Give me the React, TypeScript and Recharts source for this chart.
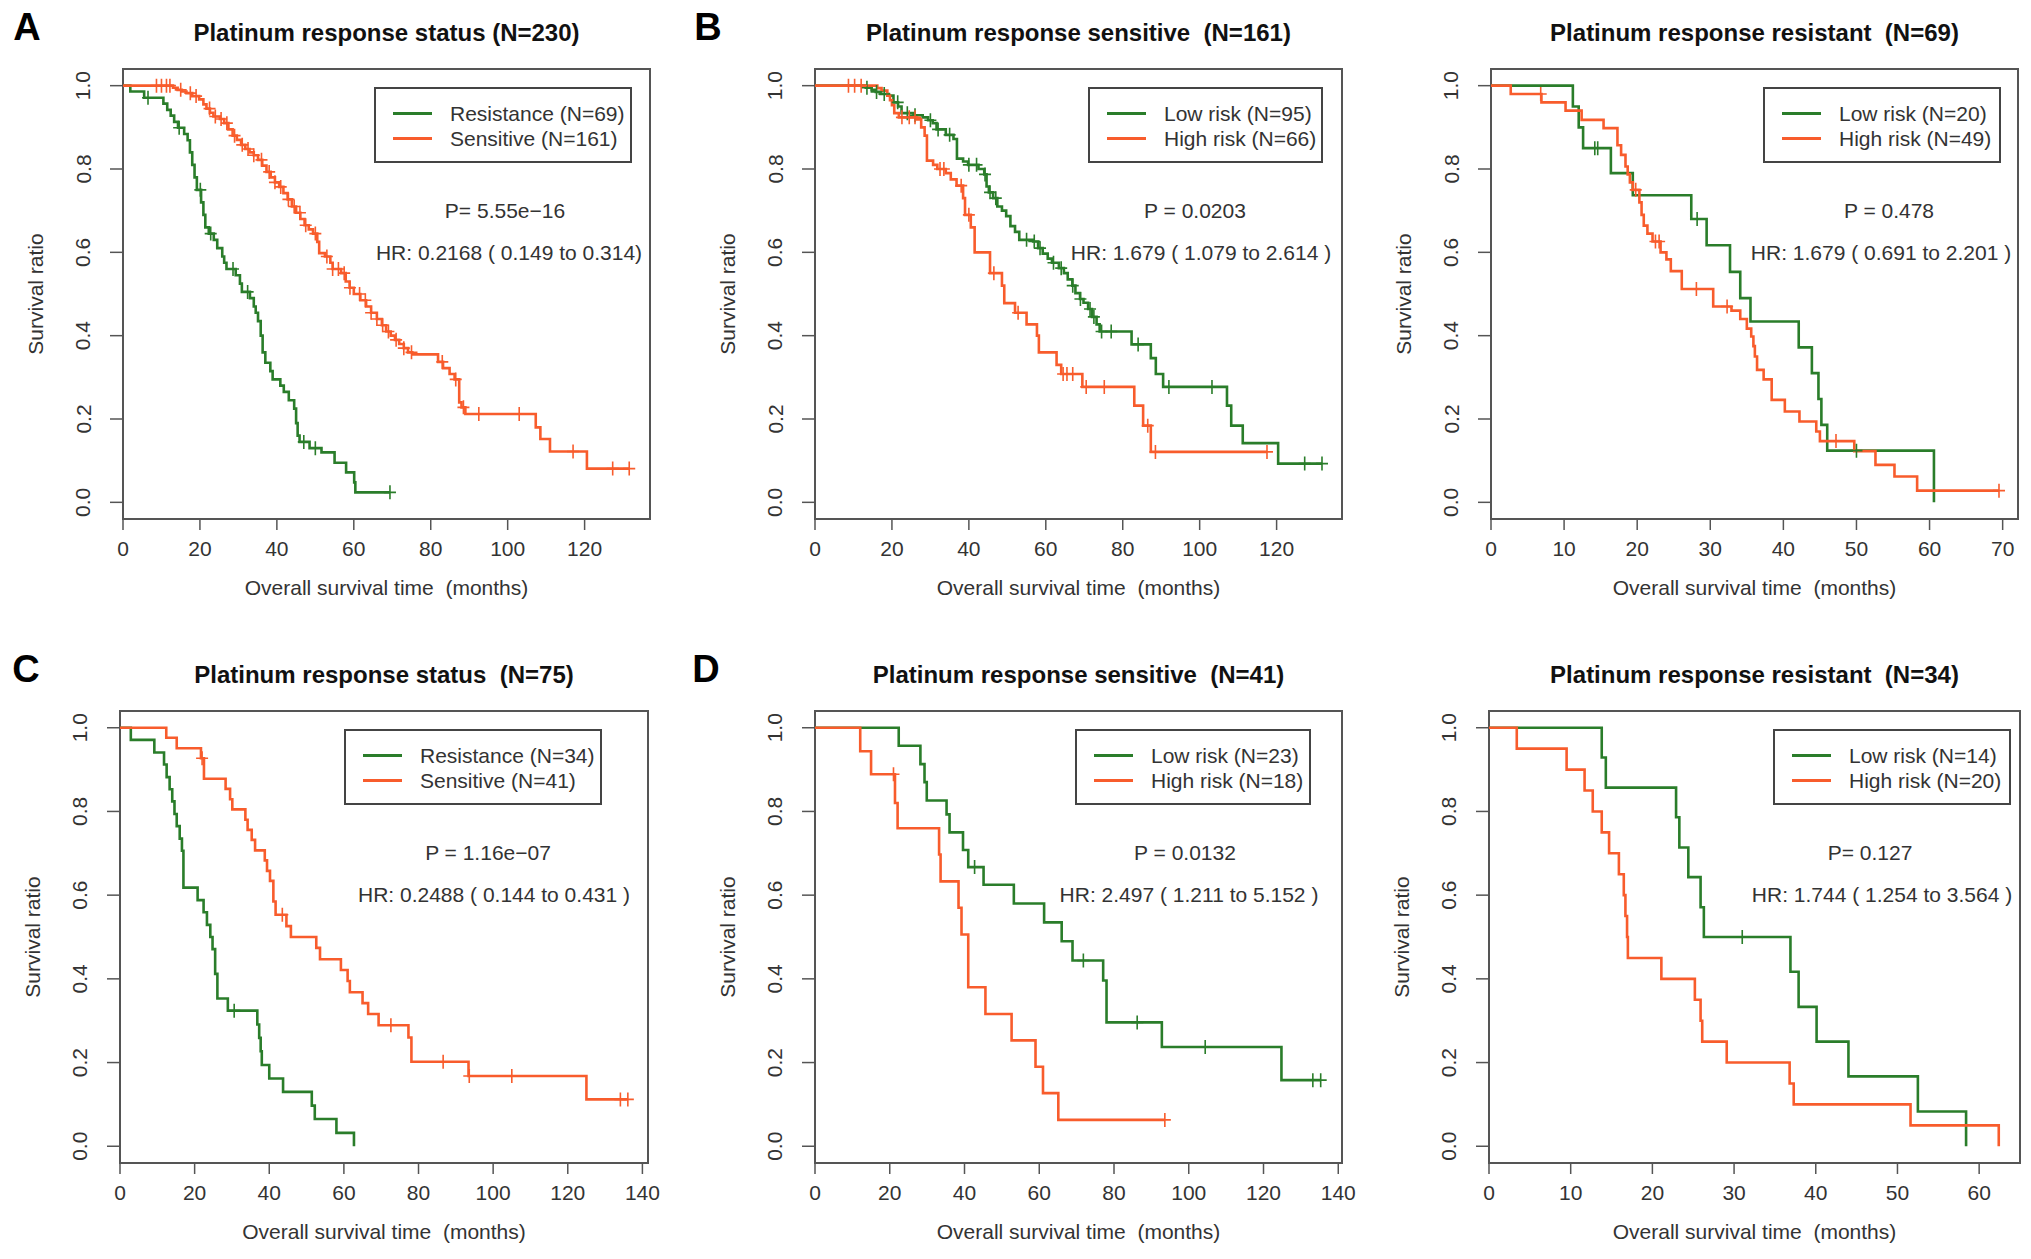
import React from 'react'
import { ComposedChart, Line, Scatter, XAxis, YAxis, ReferenceArea } from 'recharts'

const GREEN = '#2a7d2a'
const ORANGE = '#f85c2c'
const FONT = '"Liberation Sans", Arial, Helvetica, sans-serif'

type Step = [number, number]

// tick labels
const survivalTicks = [0, 0.2, 0.4, 0.6, 0.8, 1.0]
const ticks0to120 = [0, 20, 40, 60, 80, 100, 120]
const ticks0to140 = [0, 20, 40, 60, 80, 100, 120, 140]
const ticks0to70 = [0, 10, 20, 30, 40, 50, 60, 70]
const ticks0to60 = [0, 10, 20, 30, 40, 50, 60]

// A: platinum response status (N=230)
const aResistanceSteps: Step[] = [
  [0, 1], [1.9, 0.986], [5.5, 0.971], [10.5, 0.957], [11.5, 0.942], [12.4, 0.928], [13.3, 0.913],
  [14.3, 0.899], [15.9, 0.884], [16.8, 0.869], [17.4, 0.84], [18.0, 0.81], [18.6, 0.78], [19.2, 0.75],
  [20.3, 0.72], [20.9, 0.69], [21.4, 0.66], [22.3, 0.645], [23.6, 0.63], [24.5, 0.61], [25.8, 0.59],
  [26.3, 0.575], [26.9, 0.56], [29.3, 0.545], [30.4, 0.525], [30.9, 0.505], [33.0, 0.49], [34.0, 0.47],
  [34.5, 0.455], [35.1, 0.435], [35.8, 0.4], [36.3, 0.36], [37.0, 0.335], [38.3, 0.315], [38.9, 0.295],
  [40.9, 0.28], [41.8, 0.265], [43.1, 0.245], [44.5, 0.225], [45.0, 0.19], [45.4, 0.16], [45.9, 0.145],
  [48.5, 0.13], [51.6, 0.12], [55.0, 0.095], [58.0, 0.072], [60.1, 0.048], [60.4, 0.024], [69.4, 0.024],
]
const aResistanceCensor = [6.5, 14.6, 20.1, 22.8, 28.6, 32.4, 47.0, 50.0, 69.4]
const aSensitiveSteps: Step[] = [
  [0, 1], [13.0, 0.995], [14.2, 0.99], [15.3, 0.986], [16.5, 0.982], [18.0, 0.975], [19.8, 0.967],
  [20.9, 0.955], [21.7, 0.945], [22.6, 0.935], [23.5, 0.926], [25.2, 0.92], [26.3, 0.91], [27.4, 0.895],
  [28.5, 0.88], [29.6, 0.87], [30.7, 0.858], [31.8, 0.848], [32.9, 0.84], [34.0, 0.833], [35.1, 0.822],
  [36.2, 0.808], [37.3, 0.793], [38.4, 0.78], [39.5, 0.768], [40.6, 0.757], [41.7, 0.742], [42.8, 0.727],
  [43.9, 0.71], [45.0, 0.695], [46.1, 0.68], [47.2, 0.665], [48.3, 0.655], [49.4, 0.645], [50.5, 0.625],
  [51.0, 0.598], [52.5, 0.59], [53.9, 0.575], [54.5, 0.56], [56.7, 0.55], [57.9, 0.53], [58.9, 0.515],
  [60.0, 0.5], [61.7, 0.485], [63.2, 0.47], [64.5, 0.455], [66.0, 0.44], [67.3, 0.425], [68.4, 0.41],
  [69.6, 0.4], [70.7, 0.39], [71.8, 0.38], [73.0, 0.37], [74.1, 0.36], [75.2, 0.355], [81.9, 0.337],
  [83.2, 0.322], [84.9, 0.308], [86.2, 0.295], [87.4, 0.24], [88.0, 0.228], [89.0, 0.212], [107.3, 0.18],
  [108.5, 0.152], [111.0, 0.122], [120.6, 0.081], [131.6, 0.081],
]
const aSensitiveCensor = [
  8.7, 10.0, 11.3, 12.2, 15.0, 17.5, 19.0, 22.5, 24.0, 25.5, 27.0, 29.0, 31.0, 32.5, 34.0, 36.0, 38.0,
  39.5, 41.0, 43.0, 44.5, 46.0, 47.5, 50.0, 53.0, 54.5, 56.0, 57.5, 59.0, 61.5, 63.0, 64.5, 66.0, 67.5,
  69.0, 71.0, 73.0, 75.0, 83.0, 86.5, 88.5, 92.5, 103.0, 117.0, 127.3, 131.6,
]

// B: platinum response sensitive (N=161)
const bSensLowSteps: Step[] = [
  [0, 1], [13.2, 0.995], [14.7, 0.99], [15.8, 0.985], [17.0, 0.98], [19.2, 0.976], [20.4, 0.96],
  [21.6, 0.95], [22.5, 0.934], [25.6, 0.929], [28.0, 0.924], [29.4, 0.917], [30.6, 0.91], [31.6, 0.895],
  [34.0, 0.882], [36.0, 0.872], [36.9, 0.825], [38.5, 0.818], [39.8, 0.81], [42.5, 0.8], [44.0, 0.787],
  [44.6, 0.758], [45.2, 0.744], [46.3, 0.73], [47.4, 0.71], [48.6, 0.7], [49.7, 0.687], [50.8, 0.663],
  [52.0, 0.649], [53.1, 0.63], [56.7, 0.626], [58.0, 0.61], [59.2, 0.597], [60.5, 0.585], [61.6, 0.575],
  [63.4, 0.562], [64.7, 0.55], [65.7, 0.535], [66.9, 0.52], [67.7, 0.502], [68.9, 0.488], [69.8, 0.479],
  [71.0, 0.464], [72.0, 0.445], [73.2, 0.427], [74.0, 0.41], [82.3, 0.379], [87.3, 0.346], [88.6, 0.308],
  [90.5, 0.277], [107.1, 0.232], [108.2, 0.184], [111.2, 0.142], [120.4, 0.093], [131.8, 0.093],
]
const bSensLowCensor = [
  13.5, 16.0, 18.0, 21.5, 24.0, 26.0, 30.0, 32.0, 35.0, 40.0, 42.0, 44.2, 45.5, 47.0, 55.0, 57.0, 58.5,
  62.0, 64.0, 67.0, 69.0, 71.5, 72.5, 74.5, 77.0, 84.0, 92.0, 103.2, 127.3, 131.8,
]
const bSensHighSteps: Step[] = [
  [0, 1], [16.2, 0.994], [17.3, 0.988], [18.8, 0.976], [19.5, 0.965], [20.0, 0.953], [20.6, 0.934],
  [21.8, 0.924], [26.5, 0.919], [27.6, 0.9], [28.5, 0.88], [29.1, 0.82], [30.7, 0.81], [31.8, 0.8],
  [34.0, 0.79], [35.3, 0.775], [36.8, 0.76], [38.5, 0.73], [39.0, 0.69], [40.5, 0.66], [41.5, 0.6],
  [45.5, 0.55], [48.6, 0.52], [49.2, 0.478], [52.0, 0.455], [55.0, 0.427], [57.7, 0.4], [58.2, 0.36],
  [62.8, 0.33], [64.0, 0.308], [69.5, 0.277], [83.0, 0.232], [85.3, 0.184], [87.3, 0.121], [117.5, 0.121],
]
const bSensHighCensor = [
  8.7, 10.3, 12.0, 22.6, 24.5, 26.0, 32.5, 33.5, 38.0, 40.0, 46.5, 52.8, 64.5, 65.5, 67.0, 70.5, 75.2,
  86.5, 88.5, 117.5,
]

// B: platinum response resistant (N=69)
const bResLowSteps: Step[] = [
  [0, 1], [11.2, 0.95], [12.0, 0.9], [12.6, 0.85], [16.4, 0.79], [19.4, 0.737], [27.4, 0.68],
  [29.5, 0.617], [32.7, 0.553], [34.1, 0.49], [35.5, 0.434], [42.1, 0.372], [43.9, 0.31], [44.8, 0.248],
  [45.2, 0.186], [46.0, 0.124], [60.6, 0],
]
const bResLowCensor = [14.2, 14.6, 28.2, 50.0]
const bResHighSteps: Step[] = [
  [0, 1], [2.7, 0.98], [6.9, 0.96], [10.2, 0.94], [12.4, 0.918], [15.4, 0.898], [17.3, 0.857],
  [17.8, 0.834], [18.4, 0.806], [18.7, 0.787], [19.0, 0.768], [19.4, 0.75], [20.3, 0.72], [20.6, 0.69],
  [20.9, 0.664], [21.4, 0.645], [22.1, 0.626], [23.2, 0.6], [24.0, 0.583], [24.6, 0.555], [26.1, 0.512],
  [30.4, 0.47], [32.9, 0.46], [34.1, 0.44], [35.0, 0.417], [35.6, 0.398], [35.9, 0.375], [36.1, 0.35],
  [36.4, 0.318], [37.3, 0.295], [38.4, 0.246], [40.2, 0.218], [42.2, 0.194], [44.5, 0.17], [45.0, 0.147],
  [49.7, 0.123], [52.6, 0.09], [55.2, 0.062], [58.3, 0.028], [69.5, 0.028],
]
const bResHighCensor = [6.8, 19.8, 22.5, 23.0, 28.1, 32.3, 47.2, 69.5]

// C: platinum response status (N=75)
const cResistanceSteps: Step[] = [
  [0, 1], [2.9, 0.971], [9.2, 0.941], [11.8, 0.912], [12.5, 0.882], [13.3, 0.853], [14.0, 0.824],
  [14.6, 0.794], [15.2, 0.765], [16.0, 0.735], [16.6, 0.706], [17.0, 0.618], [20.8, 0.588], [22.4, 0.559],
  [23.3, 0.529], [24.2, 0.5], [24.8, 0.471], [25.5, 0.412], [26.1, 0.353], [28.9, 0.324], [36.8, 0.291],
  [37.3, 0.259], [37.7, 0.227], [38.0, 0.194], [40.0, 0.162], [43.7, 0.13], [51.4, 0.097], [52.2, 0.065],
  [58.0, 0.032], [62.7, 0],
]
const cResistanceCensor = [30.6]
const cSensitiveSteps: Step[] = [
  [0, 1], [12.4, 0.976], [15.2, 0.951], [21.7, 0.927], [22.5, 0.878], [28.3, 0.854], [29.5, 0.829],
  [30.1, 0.805], [33.6, 0.78], [34.2, 0.756], [35.3, 0.732], [36.2, 0.707], [38.8, 0.683], [39.4, 0.658],
  [40.2, 0.634], [41.1, 0.585], [41.7, 0.553], [44.6, 0.526], [45.8, 0.5], [52.6, 0.474], [53.6, 0.447],
  [59.2, 0.421], [61.0, 0.395], [61.6, 0.368], [65.0, 0.342], [66.5, 0.316], [69.3, 0.289], [77.3, 0.26],
  [78.1, 0.202], [93.4, 0.168], [125.0, 0.112], [136.1, 0.112],
]
const cSensitiveCensor = [22.0, 43.5, 72.6, 86.6, 93.6, 105.0, 134.1, 136.1]

// D: platinum response sensitive (N=41)
const dSensLowSteps: Step[] = [
  [0, 1], [22.4, 0.957], [28.2, 0.913], [29.3, 0.87], [29.9, 0.826], [35.2, 0.793], [36.0, 0.75],
  [39.6, 0.708], [41.0, 0.667], [45.1, 0.625], [53.2, 0.58], [61.3, 0.535], [66.0, 0.49], [68.9, 0.444],
  [77.1, 0.396], [78.0, 0.296], [92.8, 0.237], [124.8, 0.158], [135.3, 0.158],
]
const dSensLowCensor = [42.7, 71.8, 86.2, 104.4, 133.2, 135.3]
const dSensHighSteps: Step[] = [
  [0, 1], [12.1, 0.944], [15.0, 0.889], [21.4, 0.82], [22.1, 0.76], [33.2, 0.697], [33.6, 0.633],
  [38.4, 0.57], [39.2, 0.506], [41.0, 0.38], [45.6, 0.316], [52.6, 0.253], [59.0, 0.19], [61.0, 0.127],
  [65.1, 0.063], [93.6, 0.063],
]
const dSensHighCensor = [21.0, 93.6]

// D: platinum response resistant (N=34)
const dResLowSteps: Step[] = [
  [0, 1], [13.8, 0.929], [14.3, 0.857], [22.9, 0.786], [23.3, 0.714], [24.4, 0.643], [25.9, 0.571],
  [26.3, 0.5], [36.9, 0.417], [37.9, 0.333], [40.1, 0.25], [44.0, 0.167], [52.5, 0.083], [58.4, 0],
]
const dResLowCensor = [31.0]
const dResHighSteps: Step[] = [
  [0, 1], [3.4, 0.95], [9.5, 0.9], [11.7, 0.85], [12.7, 0.8], [13.8, 0.75], [14.7, 0.7], [15.9, 0.65],
  [16.5, 0.6], [16.7, 0.55], [16.9, 0.5], [17.0, 0.45], [21.1, 0.4], [25.2, 0.35], [25.9, 0.3],
  [26.1, 0.25], [29.1, 0.2], [36.8, 0.15], [37.3, 0.1], [51.6, 0.05], [62.4, 0],
]
const dResHighCensor: number[] = []

// survival value at a censor time
const survAt = (steps: Step[], t: number) => {
  let s = 1
  for (const [tt, ss] of steps) if (tt <= t) s = ss
  return s
}

interface Series {
  label: string
  color: string
  steps: Step[]
  censor: number[]
}

interface PanelDef {
  letter?: string
  letterX?: number
  letterY?: number
  title: string
  left: number
  top: number
  boxW: number
  boxH: number
  xMax: number
  xTicks: number[]
  series: Series[]
  legendW: number
  legendGap: number
  pText: string
  hrText: string
  pX: number
  hrX: number
}

const panels: PanelDef[] = [
  {
    letter: 'A', letterX: 27, letterY: 27,
    title: 'Platinum response status (N=230)',
    left: 123, top: 69, boxW: 527, boxH: 450, xMax: 137, xTicks: ticks0to120,
    series: [
      { label: 'Resistance (N=69)', color: GREEN, steps: aResistanceSteps, censor: aResistanceCensor },
      { label: 'Sensitive (N=161)', color: ORANGE, steps: aSensitiveSteps, censor: aSensitiveCensor },
    ],
    legendW: 258, legendGap: 18,
    pText: 'P= 5.55e\u221216', hrText: 'HR: 0.2168 ( 0.149 to 0.314)', pX: 382, hrX: 386,
  },
  {
    letter: 'B', letterX: 708, letterY: 27,
    title: 'Platinum response sensitive  (N=161)',
    left: 815, top: 69, boxW: 527, boxH: 450, xMax: 137, xTicks: ticks0to120,
    series: [
      { label: 'Low risk (N=95)', color: GREEN, steps: bSensLowSteps, censor: bSensLowCensor },
      { label: 'High risk (N=66)', color: ORANGE, steps: bSensHighSteps, censor: bSensHighCensor },
    ],
    legendW: 235, legendGap: 19,
    pText: 'P = 0.0203', hrText: 'HR: 1.679 ( 1.079 to 2.614 )', pX: 380, hrX: 386,
  },
  {
    title: 'Platinum response resistant  (N=69)',
    left: 1491, top: 69, boxW: 527, boxH: 450, xMax: 72.1, xTicks: ticks0to70,
    series: [
      { label: 'Low risk (N=20)', color: GREEN, steps: bResLowSteps, censor: bResLowCensor },
      { label: 'High risk (N=49)', color: ORANGE, steps: bResHighSteps, censor: bResHighCensor },
    ],
    legendW: 238, legendGap: 17,
    pText: 'P = 0.478', hrText: 'HR: 1.679 ( 0.691 to 2.201 )', pX: 398, hrX: 390,
  },
  {
    letter: 'C', letterX: 26, letterY: 669,
    title: 'Platinum response status  (N=75)',
    left: 120, top: 711, boxW: 528, boxH: 452, xMax: 141.5, xTicks: ticks0to140,
    series: [
      { label: 'Resistance (N=34)', color: GREEN, steps: cResistanceSteps, censor: cResistanceCensor },
      { label: 'Sensitive (N=41)', color: ORANGE, steps: cSensitiveSteps, censor: cSensitiveCensor },
    ],
    legendW: 258, legendGap: 46,
    pText: 'P = 1.16e\u221207', hrText: 'HR: 0.2488 ( 0.144 to 0.431 )', pX: 368, hrX: 374,
  },
  {
    letter: 'D', letterX: 706, letterY: 669,
    title: 'Platinum response sensitive  (N=41)',
    left: 815, top: 711, boxW: 527, boxH: 452, xMax: 141, xTicks: ticks0to140,
    series: [
      { label: 'Low risk (N=23)', color: GREEN, steps: dSensLowSteps, censor: dSensLowCensor },
      { label: 'High risk (N=18)', color: ORANGE, steps: dSensHighSteps, censor: dSensHighCensor },
    ],
    legendW: 236, legendGap: 31,
    pText: 'P = 0.0132', hrText: 'HR: 2.497 ( 1.211 to 5.152 )', pX: 370, hrX: 374,
  },
  {
    title: 'Platinum response resistant  (N=34)',
    left: 1489, top: 711, boxW: 531, boxH: 452, xMax: 65, xTicks: ticks0to60,
    series: [
      { label: 'Low risk (N=14)', color: GREEN, steps: dResLowSteps, censor: dResLowCensor },
      { label: 'High risk (N=20)', color: ORANGE, steps: dResHighSteps, censor: dResHighCensor },
    ],
    legendW: 238, legendGap: 9,
    pText: 'P= 0.127', hrText: 'HR: 1.744 ( 1.254 to 3.564 )', pX: 381, hrX: 393,
  },
]

const TEXT = '#333'
const AXIS = '#555'

// text centred on a point
const Centered = ({ x, y, children, style }: any) => (
  <div
    style={{
      position: 'absolute', left: x, top: y, transform: 'translate(-50%, -50%)',
      whiteSpace: 'pre', lineHeight: 1, fontFamily: FONT, fontSize: 21, color: TEXT, ...style,
    }}
  >
    {children}
  </div>
)

function KMPanel({ p }: { p: PanelDef }) {
  const L = 110
  const T = 10
  const R = 40
  const B = 100
  const w = p.boxW + L + R
  const h = p.boxH + T + B
  const plotBottom = T + p.boxH

  const XTick = ({ x, payload }: any) => (
    <text x={x} y={plotBottom + 29} textAnchor="middle" dominantBaseline="central"
      fontFamily={FONT} fontSize={21} fill={TEXT}>
      {payload.value}
    </text>
  )
  const YTick = ({ y, payload }: any) => (
    <text x={L - 40} y={y} textAnchor="middle" dominantBaseline="central"
      transform={`rotate(-90, ${L - 40}, ${y})`} fontFamily={FONT} fontSize={21} fill={TEXT}>
      {Number(payload.value).toFixed(1)}
    </text>
  )

  const legendLeft = p.left + p.boxW - p.legendGap - p.legendW
  const legendTop = p.top + 18

  return (
    <>
      <div style={{ position: 'absolute', left: p.left - L, top: p.top - T }}>
        <ComposedChart width={w} height={h} margin={{ top: T, right: R, left: 0, bottom: 0 }}>
          <XAxis dataKey="t" type="number" domain={[0, p.xMax]} ticks={p.xTicks} interval={0}
            allowDataOverflow height={B} axisLine={false} tickSize={11}
            tickLine={{ stroke: AXIS, strokeWidth: 1.5 }} tick={XTick} />
          <YAxis dataKey="s" type="number" domain={[-0.04, 1.04]} ticks={survivalTicks} interval={0}
            allowDataOverflow width={L} axisLine={false} tickSize={13}
            tickLine={{ stroke: AXIS, strokeWidth: 1.5 }} tick={YTick} />
          <ReferenceArea x1={0} x2={p.xMax} y1={-0.04} y2={1.04} fill="none" fillOpacity={0}
            stroke={AXIS} strokeWidth={2} ifOverflow="visible" />
          {p.series.map((s) => (
            <Line key={'l' + s.label} data={s.steps.map(([t, v]) => ({ t, s: v }))} dataKey="s"
              type="stepAfter" stroke={s.color} strokeWidth={2.6} dot={false} activeDot={false}
              isAnimationActive={false} />
          ))}
          {p.series.map((s) => (
            <Scatter key={'c' + s.label} data={s.censor.map((t) => ({ t, s: survAt(s.steps, t) }))}
              dataKey="s" isAnimationActive={false}
              shape={(props: any) => (
                <path d={`M${props.cx - 6},${props.cy}H${props.cx + 6}M${props.cx},${props.cy - 7}V${props.cy + 7}`}
                  stroke={s.color} strokeWidth={1.6} fill="none" />
              )} />
          ))}
        </ComposedChart>
      </div>

      {p.letter && (
        <Centered x={p.letterX} y={p.letterY} style={{ fontSize: 38, fontWeight: 'bold', color: '#000' }}>
          {p.letter}
        </Centered>
      )}
      <Centered x={p.left + p.boxW / 2} y={p.top - 36} style={{ fontSize: 24, fontWeight: 'bold', color: '#111' }}>
        {p.title}
      </Centered>
      <Centered x={p.left + p.boxW / 2} y={p.top + p.boxH + 68}>
        {'Overall survival time  (months)'}
      </Centered>
      <Centered x={p.left - 88} y={p.top + p.boxH / 2}
        style={{ transform: 'translate(-50%, -50%) rotate(-90deg)' }}>
        Survival ratio
      </Centered>
      <Centered x={p.left + p.pX} y={p.top + 141}>{p.pText}</Centered>
      <Centered x={p.left + p.hrX} y={p.top + 183}>{p.hrText}</Centered>

      <div style={{
        position: 'absolute', left: legendLeft, top: legendTop, width: p.legendW, height: 76,
        border: '2px solid #444', boxSizing: 'border-box',
      }}>
        {p.series.map((s, i) => (
          <React.Fragment key={s.label}>
            <div style={{
              position: 'absolute', left: 17, top: 23 + i * 25, width: 39, height: 3, background: s.color,
            }} />
            <div style={{
              position: 'absolute', left: 74, top: 24 + i * 25, transform: 'translateY(-50%)',
              whiteSpace: 'pre', lineHeight: 1, fontFamily: FONT, fontSize: 21, color: TEXT,
            }}>
              {s.label}
            </div>
          </React.Fragment>
        ))}
      </div>
    </>
  )
}

export default function App() {
  return (
    <div style={{
      position: 'absolute', left: 0, top: 0, width: 2031, height: 1259, background: '#fff', overflow: 'hidden',
    }}>
      {panels.map((p) => (
        <KMPanel key={p.title} p={p} />
      ))}
    </div>
  )
}
